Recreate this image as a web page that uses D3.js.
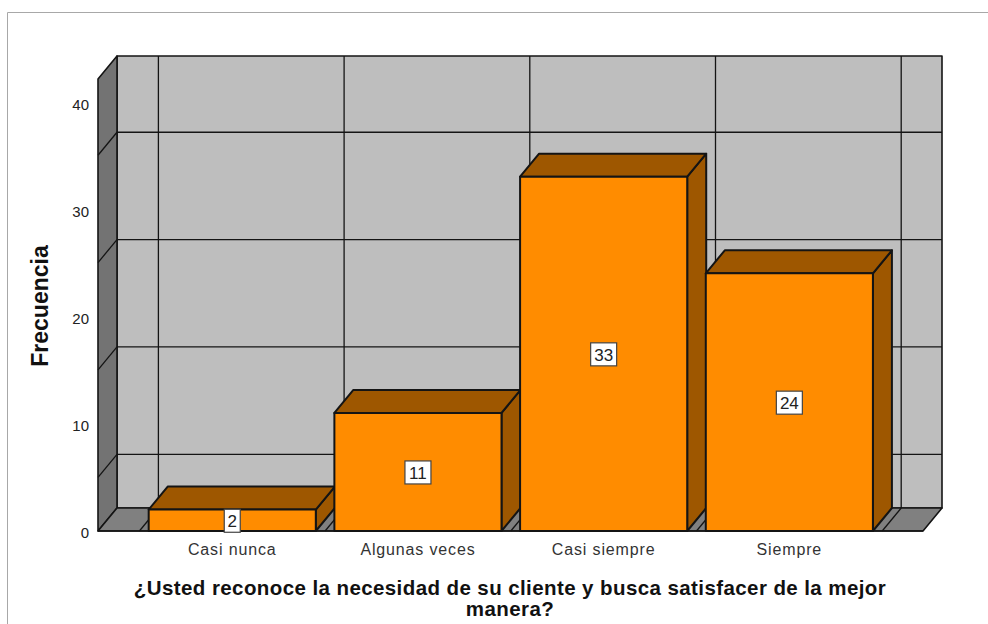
<!DOCTYPE html>
<html><head><meta charset="utf-8">
<script src="https://cdn.jsdelivr.net/npm/d3@7"></script>
<style>html,body{margin:0;padding:0;background:#fff}svg{display:block}text{font-family:"Liberation Sans",Arial,sans-serif}</style>
</head><body><div id="chart"></div>
<script>
const categories = ["Casi nunca","Algunas veces","Casi siempre","Siempre"];
const values = [2,11,33,24];
const tickLabels = [0,10,20,30,40];
const gridValues = [5,15,25,35];
const titleLines = ["¿Usted reconoce la necesidad de su cliente y busca satisfacer de la mejor","manera?"];
const yTitle = "Frecuencia";

const W=988,H=624, dx=19, dy=-23;
const svg=d3.select("#chart").append("svg").attr("width",W).attr("height",H);
const y=d3.scaleLinear().domain([0,42.1]).range([531,79]);
const yLabel=d3.scaleLinear().domain([0,40]).range([532,104]);
const x=d3.scaleBand().domain(categories).range([139.4,882.2]).paddingInner(0.1).paddingOuter(0.05);
const xL=98,xR=923,y0=y(0),yT=y(42.1);
const stroke="#141414";
const poly=(pts,fill,sw=1.6)=>svg.append("polygon").attr("points",pts.map(p=>p.join(",")).join(" ")).attr("fill",fill).attr("stroke",stroke).attr("stroke-width",sw).attr("stroke-linejoin","round");
const line=(a,b,sw=1.3,c=stroke)=>svg.append("line").attr("x1",a[0]).attr("y1",a[1]).attr("x2",b[0]).attr("y2",b[1]).attr("stroke",c).attr("stroke-width",sw);

// frame
svg.append("path").attr("d",`M7.5 624V12.5H988`).attr("fill","none").attr("stroke","#a8a8a8").attr("stroke-width",1);

// walls
poly([[xL+dx,y0+dy],[xR+dx,y0+dy],[xR+dx,yT+dy],[xL+dx,yT+dy]],"#bebebe");
poly([[xL,y0],[xL+dx,y0+dy],[xL+dx,yT+dy],[xL,yT]],"#737373");
poly([[xL,y0],[xR,y0],[xR+dx,y0+dy],[xL+dx,y0+dy]],"#808080");

// grid
gridValues.forEach(v=>{
  line([xL+dx,y(v)+dy],[xR+dx,y(v)+dy]);
  line([xL,y(v)],[xL+dx,y(v)+dy]);
});
const step=x.step();
d3.range(categories.length+1).forEach(i=>{
  const bx=x.range()[0]+i*step;
  line([bx+dx,y0+dy],[bx+dx,yT+dy]);
  line([bx,y0],[bx+dx,y0+dy]);
});

// bars
categories.forEach((c,i)=>{
  const l=x(c),r=l+x.bandwidth(),t=y(values[i]);
  poly([[r,y0],[r+dx,y0+dy],[r+dx,t+dy],[r,t]],"#9e5700",2);
  poly([[l,t],[r,t],[r+dx,t+dy],[l+dx,t+dy]],"#9e5700",2);
  poly([[l,y0],[r,y0],[r,t],[l,t]],"#ff8c00",2);
});
line([xL,y0],[xR,y0],1.6);

// value labels
categories.forEach((c,i)=>{
  const cx=x(c)+x.bandwidth()/2, cy=(y(values[i])+y0)/2+0.5;
  const w=String(values[i]).length>1?26:16;
  svg.append("rect").attr("x",cx-w/2).attr("y",cy-11.5).attr("width",w).attr("height",23).attr("fill","#fff").attr("stroke","#444").attr("stroke-width",1.2);
  svg.append("text").attr("x",cx).attr("y",cy+6.5).attr("text-anchor","middle").attr("font-size",17).attr("fill","#222").text(values[i]);
});

// tick labels
tickLabels.forEach(v=>svg.append("text").attr("x",89).attr("y",yLabel(v)+5.5).attr("text-anchor","end").attr("font-size",15).attr("fill","#222").text(v));
categories.forEach(c=>svg.append("text").attr("x",x(c)+x.bandwidth()/2).attr("y",554.5).attr("text-anchor","middle").attr("font-size",16).attr("letter-spacing",0.85).attr("fill","#333").text(c));

// titles
titleLines.forEach((t,i)=>svg.append("text").attr("x",510).attr("y",595+i*20.5).attr("text-anchor","middle").attr("font-size",20.5).attr("font-weight","bold").attr("letter-spacing",0.41).attr("fill","#111").text(t));
svg.append("text").attr("transform","translate(48,306) rotate(-90)").attr("text-anchor","middle").attr("font-size",23).attr("font-weight","bold").attr("fill","#111").text(yTitle);
</script></body></html>
